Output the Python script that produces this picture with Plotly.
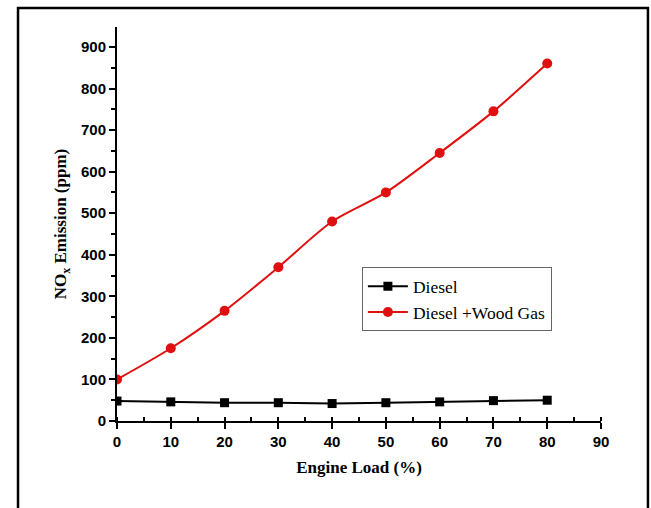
import plotly.graph_objects as go

engine_load = [0, 10, 20, 30, 40, 50, 60, 70, 80]
diesel = [48, 46, 44, 44, 42, 44, 46, 49, 50]
diesel_wood_gas = [100, 175, 265, 370, 480, 550, 645, 745, 860]

x_ticks = [0, 10, 20, 30, 40, 50, 60, 70, 80, 90]
y_ticks = [0, 100, 200, 300, 400, 500, 600, 700, 800, 900]

fig = go.Figure()
fig.add_trace(go.Scatter(
    x=engine_load, y=diesel, name="Diesel", mode="lines+markers",
    line=dict(color="black", width=2),
    marker=dict(symbol="square", size=9, color="black"),
))
fig.add_trace(go.Scatter(
    x=engine_load, y=diesel_wood_gas, name="Diesel +Wood Gas", mode="lines+markers",
    line=dict(color="#e01010", width=2, shape="spline", smoothing=0.8),
    marker=dict(symbol="circle", size=10, color="#e01010"),
))

tickfont = dict(family="Liberation Sans", size=15, color="black", weight="bold")
fig.update_layout(
    width=651, height=508,
    margin=dict(l=117, r=50, t=27, b=87),
    paper_bgcolor="white", plot_bgcolor="white",
    showlegend=True,
    legend=dict(
        x=0.506, y=0.39, xanchor="left", yanchor="top",
        font=dict(family="Liberation Serif", size=17.5, color="black"),
        bordercolor="#666666", borderwidth=1, bgcolor="white",
        tracegroupgap=0, itemwidth=40,
    ),
    xaxis=dict(
        range=[0, 90], tickvals=x_ticks, ticktext=[str(v) for v in x_ticks],
        showline=True, linecolor="black", linewidth=2,
        ticks="outside", ticklen=6, tickwidth=2, tickcolor="black",
        minor=dict(dtick=5, ticks="inside", ticklen=4, tickwidth=1.5, tickcolor="black"),
        showgrid=False, zeroline=False, tickfont=tickfont,
        title=dict(text="<b>Engine Load (%)</b>",
                   font=dict(family="Liberation Serif", size=17, color="black"),
                   standoff=12),
    ),
    yaxis=dict(
        range=[0, 948], tickvals=y_ticks, ticktext=[str(v) for v in y_ticks],
        showline=True, linecolor="black", linewidth=2,
        ticks="outside", ticklen=6, tickwidth=2, tickcolor="black",
        minor=dict(dtick=50, ticks="outside", ticklen=4, tickwidth=1.5, tickcolor="black"),
        showgrid=False, zeroline=False, tickfont=tickfont,
        title=dict(text="<b>NO<sub>x</sub> Emission (ppm)</b>",
                   font=dict(family="Liberation Serif", size=17, color="black"),
                   standoff=10),
    ),
    shapes=[dict(type="rect", xref="paper", yref="paper",
                 x0=-0.2045, x1=1.097, y0=-0.24, y1=1.048,
                 line=dict(color="black", width=2.5))],
)

fig.write_html("out.html")
